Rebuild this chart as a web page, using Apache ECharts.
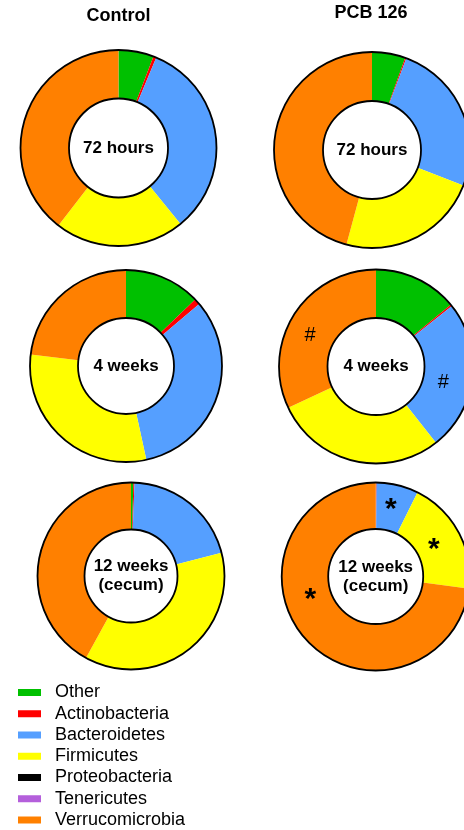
<!DOCTYPE html>
<html>
<head>
<meta charset="utf-8">
<script src="https://cdn.jsdelivr.net/npm/echarts@6/dist/echarts.min.js"></script>
<style>
  html, body { margin: 0; padding: 0; background: #fff; }
  #chart { width: 464px; height: 830px; }
</style>
</head>
<body>
<div id="chart"></div>
<script>
// Phylum composition (relative abundance, %) per group and time point
const categories = ['Other', 'Actinobacteria', 'Bacteroidetes', 'Firmicutes', 'Proteobacteria', 'Tenericutes', 'Verrucomicrobia'];
const phylumColors = ['#00C000', '#FF0000', '#559FFF', '#FFFF00', '#000000', '#B45FDB', '#FF8000'];

const groupTitles = ['Control', 'PCB 126'];
const timeLabels = ['72 hours', '4 weeks', '12 weeks\n(cecum)'];

const control72h = [5.8, 0.5, 32.8, 21.4, 0, 0, 39.5];
const pcb72h = [5.5, 0.2, 25.2, 23.3, 0, 0, 45.8];
const control4w = [12.8, 1.0, 32.8, 30.3, 0, 0, 23.1];
const pcb4w = [14.0, 0.3, 25.1, 28.6, 0, 0, 32.0];
const control12w = [0.4, 0.2, 20.4, 37.0, 0, 0, 42.0];
const pcb12w = [0, 0.15, 7.2, 19.7, 0, 0, 72.95];

// significance marks drawn on slices ('#' and '*')
const pcb4wMarks = ['', '', '#', '', '', '', '#'];
const pcb12wMarks = ['', '', '*', '*', '', '', '*'];

const FONT = '"Liberation Sans", Arial, Helvetica, sans-serif';

// ring geometry for each donut: center and [inner, outer] radius;
// markShift nudges a slice's mark away from the slice mid-point
const rings = [
  { values: control72h, center: [118.5, 148], radius: [49.5, 98], label: timeLabels[0] },
  { values: pcb72h, center: [372, 150], radius: [49, 98], label: timeLabels[0] },
  { values: control4w, center: [126, 366], radius: [48, 96], label: timeLabels[1] },
  {
    values: pcb4w, center: [376, 366.5], radius: [48.5, 97], label: timeLabels[1],
    marks: pcb4wMarks, markSize: 20, markWeight: 'normal',
    markShift: { 2: [-8, 7], 6: [-2, 10] }
  },
  { values: control12w, center: [131, 576], radius: [46.5, 93.5], label: timeLabels[2] },
  {
    values: pcb12w, center: [375.7, 576.5], radius: [47.5, 94], label: timeLabels[2],
    marks: pcb12wMarks, markSize: 30, markWeight: 'bold',
    markShift: { 2: [-2, 5], 3: [-7, 8], 6: [-10, -25] }
  }
];

const series = [];
rings.forEach(function (ring, idx) {
  const pie = {
    type: 'pie',
    name: 'ring' + idx,
    center: ring.center,
    radius: ring.radius,
    startAngle: 90,
    clockwise: true,
    silent: true,
    animation: false,
    avoidLabelOverlap: false,
    itemStyle: { borderWidth: 0 },
    labelLine: { show: false },
    label: { show: false },
    emphasis: { disabled: true },
    data: categories.map(function (name, i) {
      const item = {
        name: name,
        value: ring.values[i],
        itemStyle: { color: phylumColors[i], borderWidth: 0 }
      };
      if (ring.marks && ring.marks[i]) {
        item.label = {
          show: true,
          position: 'inside',
          formatter: ring.marks[i],
          color: '#000',
          fontFamily: FONT,
          fontSize: ring.markSize,
          fontWeight: ring.markWeight
        };
      }
      return item;
    })
  };
  if (ring.markShift) {
    pie.labelLayout = function (params) {
      const s = ring.markShift[params.dataIndex];
      return s ? { dx: s[0], dy: s[1] } : {};
    };
  }
  series.push(pie);
  // black outline of the ring with the time point written in the hole
  series.push({
    type: 'pie',
    name: 'outline' + idx,
    center: ring.center,
    radius: ring.radius,
    silent: true,
    animation: false,
    emphasis: { disabled: true },
    labelLine: { show: false },
    label: {
      show: true,
      position: 'center',
      formatter: '{b}',
      color: '#000',
      fontFamily: FONT,
      fontSize: 17,
      fontWeight: 'bold',
      lineHeight: 19
    },
    itemStyle: { color: 'rgba(0,0,0,0)', borderColor: '#000', borderWidth: 1.8 },
    data: [{ name: ring.label, value: 1 }]
  });
});

const chart = echarts.init(document.getElementById('chart'), null, { renderer: 'canvas' });
chart.setOption({
  backgroundColor: '#fff',
  animation: false,
  color: phylumColors,
  graphic: [
    { type: 'text', x: 118.5, y: 16, style: { text: groupTitles[0], font: 'bold 18px ' + FONT, fill: '#000', textAlign: 'center', textVerticalAlign: 'middle' } },
    { type: 'text', x: 371, y: 13, style: { text: groupTitles[1], font: 'bold 18px ' + FONT, fill: '#000', textAlign: 'center', textVerticalAlign: 'middle' } }
  ],
  legend: {
    orient: 'vertical',
    left: 18,
    top: 683.5,
    height: 160,
    padding: 0,
    selectedMode: false,
    icon: 'rect',
    itemWidth: 23,
    itemHeight: 7,
    itemGap: 3.25,
    data: categories,
    textStyle: {
      fontFamily: FONT,
      fontSize: 18,
      color: '#000',
      lineHeight: 18,
      padding: [0, 0, 0, 9]
    }
  },
  series: series
});
</script>
</body>
</html>
